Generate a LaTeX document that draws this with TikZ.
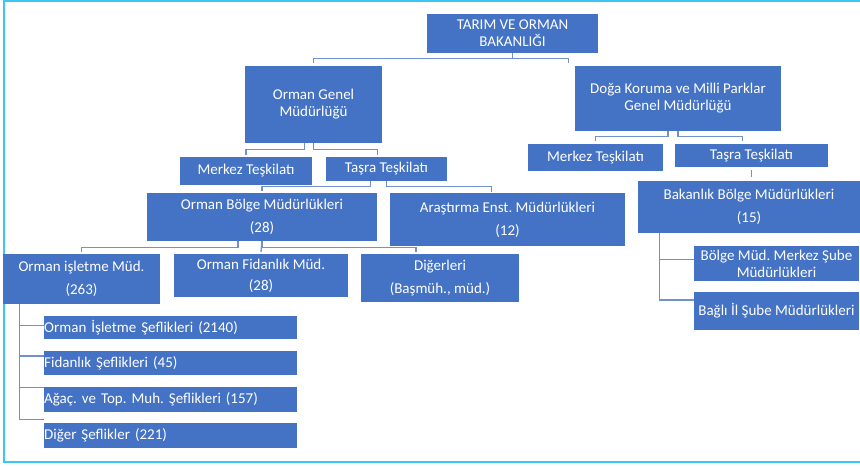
\documentclass[tikz,border=0pt]{standalone}
\usepackage{fontspec}
\setmainfont{Carlito}
\usepackage{tikz}
\frenchspacing

\definecolor{orgblue}{HTML}{4472C4}
\definecolor{linkblue}{HTML}{7190D0}
\definecolor{frameblue}{HTML}{3CC6F2}

\tikzset{
  orgbox/.style={fill=orgblue, text=white, inner sep=0pt, align=center,
    font=\fontsize{15}{17}\selectfont},
  listbox/.style={orgbox, anchor=west, text width=253pt, align=left},
  orglink/.style={draw=linkblue, line width=1.3pt},
}

\begin{document}
\begin{tikzpicture}[x=1pt,y=-1pt]
  \useasboundingbox (0,0) rectangle (860,466);
  \draw[frameblue, line width=2pt] (860,1) -- (4,1) -- (4,462) -- (860,462);

  % top levels
  \node[orgbox, minimum width=171pt, minimum height=39pt] (bakan) at (512.5,33.5) {TARIM VE ORMAN\\BAKANLIĞI};
  \node[orgbox, minimum width=137pt, minimum height=77pt] (ogm) at (313.5,104.5) {Orman Genel\\Müdürlüğü};
  \node[orgbox, minimum width=206pt, minimum height=65pt] (doga) at (678,98.5) {Doğa Koruma ve Milli Parklar\\Genel Müdürlüğü};

  \node[orgbox, minimum width=132pt, minimum height=28pt] (merkezL) at (246,171) {Merkez Teşkilatı};
  \node[orgbox, minimum width=121pt, minimum height=24pt] (tasraL) at (386.5,169) {Taşra Teşkilatı};
  \node[orgbox, minimum width=135pt, minimum height=27pt] (merkezR) at (595.5,157.5) {Merkez Teşkilatı};
  \node[orgbox, minimum width=153pt, minimum height=23pt] (tasraR) at (751.5,155.5) {Taşra Teşkilatı};

  \node[orgbox, minimum width=230pt, minimum height=48pt] (bolge) at (262,217) {Orman Bölge Müdürlükleri\\[6pt](28)};
  \node[orgbox, minimum width=235pt, minimum height=53pt] (arastirma) at (507.5,219.5) {Araştırma Enst. Müdürlükleri\\[6pt](12)};
  \node[orgbox, minimum width=222pt, minimum height=52pt] (bakbolge) at (749,207) {Bakanlık Bölge Müdürlükleri\\[6pt](15)};

  \node[orgbox, minimum width=157pt, minimum height=50pt] (isletme) at (81.5,279) {Orman işletme Müd.\\[6pt](263)};
  \node[orgbox, minimum width=174pt, minimum height=43pt] (fidanlik) at (261,275.5) {Orman Fidanlık Müd.\\[4pt](28)};
  \node[orgbox, minimum width=158pt, minimum height=48pt] (digerleri) at (440,278) {Diğerleri\\[6pt](Başmüh., müd.)};

  \node[orgbox, minimum width=165pt, minimum height=35pt] (subeMerkez) at (776.5,263.5) {Bölge Müd. Merkez Şube\\Müdürlükleri};
  \node[orgbox, minimum width=165pt, minimum height=38pt] (subeIl) at (776.5,311) {Bağlı İl Şube Müdürlükleri};

  \node[listbox, minimum height=23pt] (sef1) at (44,327.5) {Orman İşletme Şeflikleri (2140)};
  \node[listbox, minimum height=24pt] (sef2) at (44,363) {Fidanlık Şeflikleri (45)};
  \node[listbox, minimum height=25pt] (sef3) at (44,399.5) {Ağaç. ve Top. Muh. Şeflikleri (157)};
  \node[listbox, minimum height=25pt] (sef4) at (44,435.5) {Diğer Şeflikler (221)};

  % connectors
  \draw[orglink] (bakan.south) -- ++(0,5) -| ([yshift=3pt]ogm.north);
  \draw[orglink] (bakan.south) -- ++(0,5) -| ([xshift=-6pt,yshift=3pt]doga.north west);

  \draw[orglink] ([xshift=-9pt]ogm.south) -- ++(0,6) -| ([yshift=2pt]merkezL.north);
  \draw[orglink] (ogm.south) -- ++(0,6) -| ([xshift=-9pt,yshift=2pt]tasraL.north);
  \draw[orglink] ([xshift=-10pt]doga.south) -- ++(0,5) -| ([yshift=3pt]merkezR.north);
  \draw[orglink] (doga.south) -- ++(0,5) -| ([xshift=-9pt,yshift=3pt]tasraR.north);

  \draw[orglink] ([xshift=-16pt]tasraL.south) -- ++(0,5) -| ([yshift=2pt]bolge.north);
  \draw[orglink] (tasraL.south) -- ++(0,5) -| ([xshift=-16pt,yshift=1pt]arastirma.north);
  \draw[orglink] ([yshift=-3pt]tasraR.south) -- ([yshift=4pt]tasraR.south |- bakbolge.north);

  \draw[orglink] ([xshift=-24pt]bolge.south) -- ++(0,6) -| ([yshift=2pt]isletme.north);
  \draw[orglink] (bolge.south) -- ([yshift=2pt]fidanlik.north);
  \draw[orglink] (bolge.south) -- ++(0,6) -| ([xshift=-24pt,yshift=2pt]digerleri.north);

  \draw[orglink] ([xshift=22pt,yshift=-3pt]bakbolge.south west) |- ([yshift=11pt]subeIl.west);
  \draw[orglink] ([xshift=22pt]bakbolge.south west) |- ([yshift=4pt]subeMerkez.west);

  \draw[orglink] ([xshift=17pt]isletme.south west) |- ([yshift=16pt]sef4.west);
  \foreach \s/\d in {sef1/2, sef2/7, sef3/12}
    \draw[orglink] ([xshift=-24pt,yshift=\d pt]\s.west) -- ([yshift=\d pt]\s.west);
\end{tikzpicture}
\end{document}
